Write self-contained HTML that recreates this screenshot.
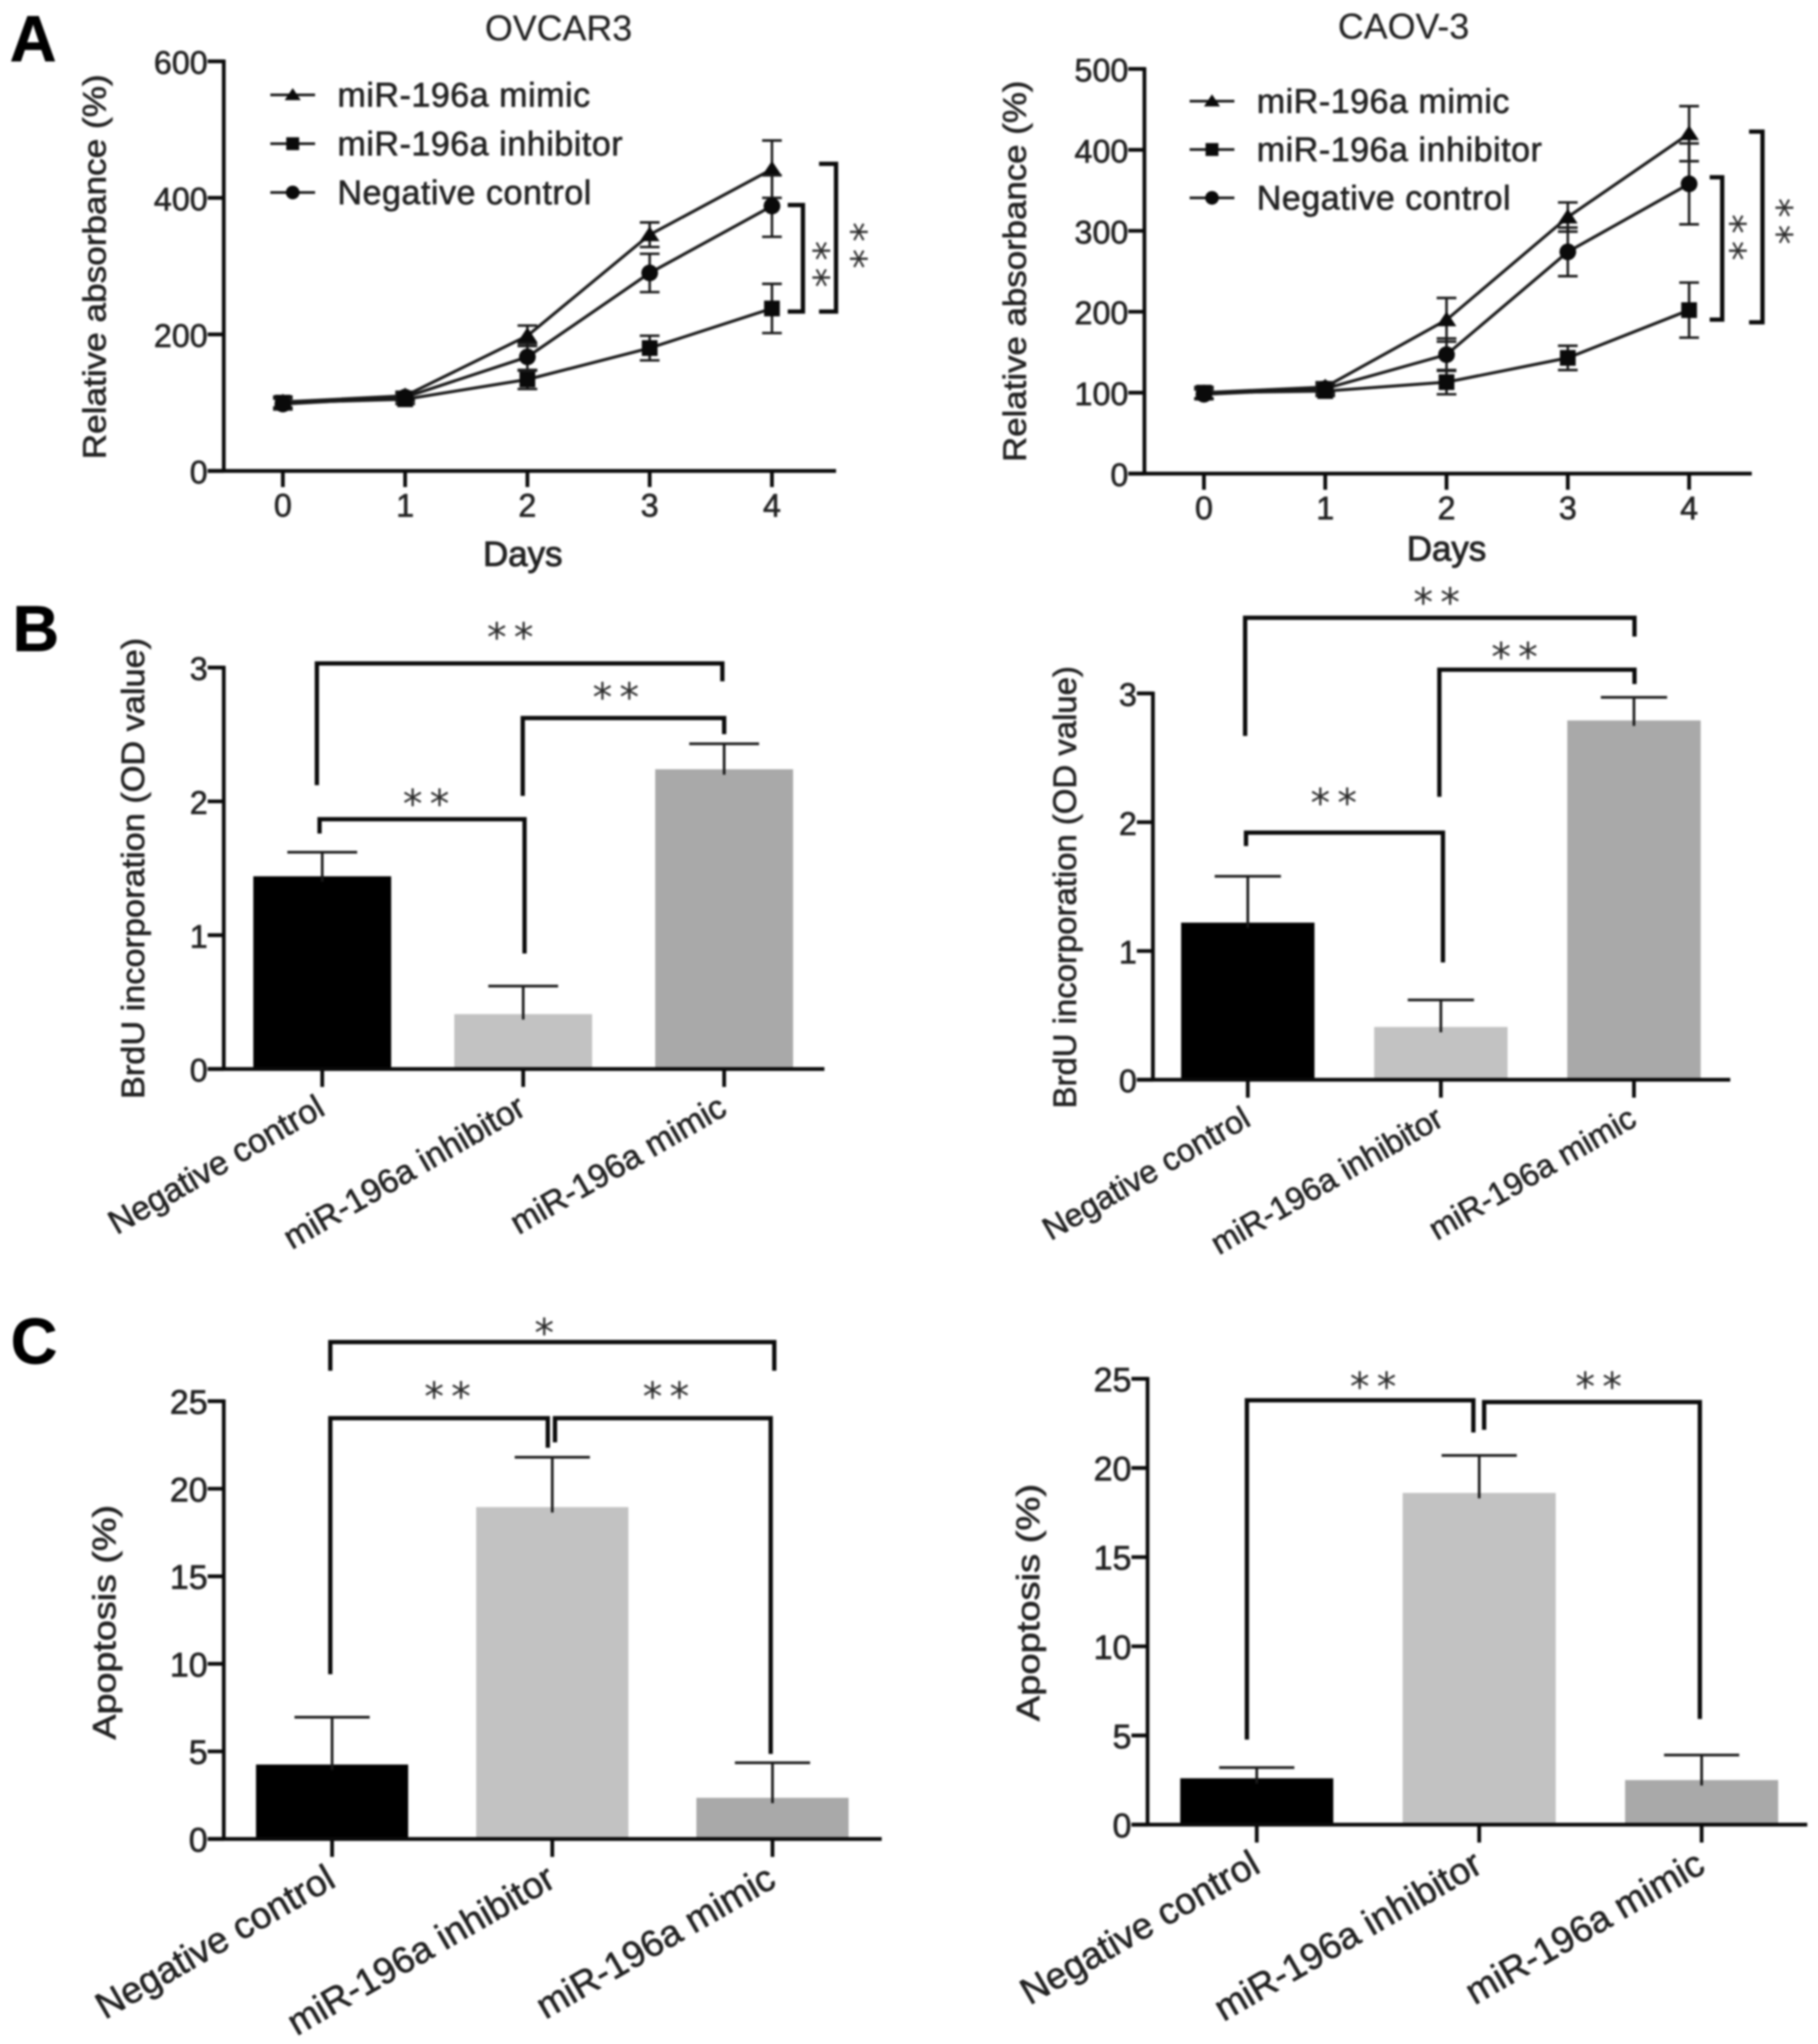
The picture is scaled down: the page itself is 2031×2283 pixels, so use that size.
<!DOCTYPE html>
<html lang="en">
<head>
<meta charset="utf-8">
<title>miR-196a proliferation and apoptosis panels</title>
<style>
html,body{margin:0;padding:0;background:#fff;}
#figure{display:block;width:2031px;height:2283px;filter:blur(.95px);}
text{font-family:"Liberation Sans",Arial,sans-serif;fill:#222;stroke:#222;stroke-width:.7px;}
.letter{font-size:72px;font-weight:bold;fill:#000;stroke:#000;}
.title{font-size:40px;text-anchor:middle;stroke-width:.2px;}
.tick{font-size:36px;}
.axis-title{font-size:36px;text-anchor:middle;}
.days-title{font-size:39px;text-anchor:middle;stroke-width:1px;}
.legend-text{font-size:38px;letter-spacing:.6px;}
.cat{text-anchor:end;}
.star{font-family:"DejaVu Sans",sans-serif;font-size:44px;text-anchor:middle;letter-spacing:8px;stroke-width:0;fill:#2c2c2c;}
.br{fill:none;stroke:#0a0a0a;stroke-width:4.8;stroke-linejoin:miter;}
</style>
</head>
<body>
<svg id="figure" xmlns="http://www.w3.org/2000/svg" width="2031" height="2283" viewBox="0 0 2031 2283">
  <rect x="0" y="0" width="2031" height="2283" fill="#fff"/>
  <text class="letter" x="11" y="68">A</text>
  <text class="letter" x="14" y="727">B</text>
  <text class="letter" x="12" y="1523">C</text>
  <text class="title" x="624" y="45">OVCAR3</text>
  <text class="title" x="1568" y="43">CAOV-3</text>

  <!-- significance brackets, panel A -->
  <g>
    <path class="br" d="M880 229H897V348H880"/>
    <path class="br" d="M915 183H934V348H915"/>
    <g transform="translate(917,299) rotate(90)"><text class="star" x="0" y="22">**</text></g>
    <g transform="translate(959,278) rotate(90)"><text class="star" x="0" y="22">**</text></g>
  </g>
  <g>
    <path class="br" d="M1910 198H1924V357H1910"/>
    <path class="br" d="M1954 147H1969V360H1954"/>
    <g transform="translate(1941,269) rotate(90)"><text class="star" x="0" y="22">**</text></g>
    <g transform="translate(1993,251) rotate(90)"><text class="star" x="0" y="22">**</text></g>
  </g>

  <!-- significance brackets, panel B -->
  <g>
    <path class="br" d="M354 877V741H807V761"/>
    <path class="br" d="M584 889V802H809V820"/>
    <path class="br" d="M357 931V915H586V1065"/>
    <text class="star" x="574" y="727">**</text>
    <text class="star" x="692" y="794">**</text>
    <text class="star" x="480" y="913">**</text>
  </g>
  <g>
    <path class="br" d="M1391 822V690H1826V711"/>
    <path class="br" d="M1608 890V748H1826V764"/>
    <path class="br" d="M1392 945V930H1612V1075"/>
    <text class="star" x="1609" y="688">**</text>
    <text class="star" x="1696" y="749">**</text>
    <text class="star" x="1494" y="912">**</text>
  </g>

  <!-- significance brackets, panel C -->
  <g>
    <path class="br" d="M369 1531V1499H865V1531"/>
    <path class="br" d="M369 1870V1584H612V1617"/>
    <path class="br" d="M620 1611V1584H861V1959"/>
    <text class="star" x="612" y="1504">*</text>
    <text class="star" x="504" y="1575">**</text>
    <text class="star" x="748" y="1575">**</text>
  </g>
  <g>
    <path class="br" d="M1393 1943V1564H1646V1600"/>
    <path class="br" d="M1658 1597V1566H1899V1920"/>
    <text class="star" x="1538" y="1564">**</text>
    <text class="star" x="1790" y="1564">**</text>
  </g>
</svg>

<script>
/* ---------- chart data ---------- */
const days = [0, 1, 2, 3, 4];
const seriesNames = ['miR-196a mimic', 'miR-196a inhibitor', 'Negative control'];
const categories = ['Negative control', 'miR-196a inhibitor', 'miR-196a mimic'];

const ovcarTicks = [0, 200, 400, 600];
const ovcarMimic = [101, 110, 198, 346, 442];
const ovcarMimicErr = [8, 6, 15, 18, 42];
const ovcarInhibitor = [100, 105, 134, 180, 238];
const ovcarInhibitorErr = [8, 7, 14, 18, 36];
const ovcarControl = [98, 108, 167, 290, 388];
const ovcarControlErr = [8, 6, 20, 28, 45];

const caovTicks = [0, 100, 200, 300, 400, 500];
const caovMimic = [100, 107, 190, 317, 420];
const caovMimicErr = [7, 6, 27, 18, 34];
const caovInhibitor = [100, 102, 113, 143, 202];
const caovInhibitorErr = [7, 6, 15, 15, 34];
const caovControl = [98, 105, 147, 274, 358];
const caovControlErr = [6, 6, 20, 30, 50];

const brduTicks = [0, 1, 2, 3];
const brduOvcarValues = [1.44, 0.41, 2.24];
const brduOvcarErr = [0.18, 0.21, 0.19];
const brduCaovValues = [1.22, 0.41, 2.79];
const brduCaovErr = [0.36, 0.21, 0.18];

const apoptosisTicks = [0, 5, 10, 15, 20, 25];
const apoptosisOvcarValues = [4.25, 18.95, 2.35];
const apoptosisOvcarErr = [2.7, 2.85, 2.0];
const apoptosisCaovValues = [2.6, 18.6, 2.5];
const apoptosisCaovErr = [0.6, 2.1, 1.4];

const barColors = ['#000000', '#c2c2c2', '#a9a9a9'];

/* ---------- helpers ---------- */
const NS = 'http://www.w3.org/2000/svg';
const svg = document.getElementById('figure');
function node(parent, tag, attrs, txt) {
  const e = document.createElementNS(NS, tag);
  for (const k in attrs) e.setAttribute(k, attrs[k]);
  if (txt !== undefined) e.textContent = txt;
  parent.appendChild(e);
  return e;
}
function yScale(c) { return v => c.y0 - v * (c.y0 - c.yTop) / c.yMax; }
function xDays(c) { return d => c.x0 + d * c.dx; }
function xCat(c) { return i => c.cx0 + i * c.step; }

function drawYAxis(g, c, ticks, y) {
  const axis = node(g, 'line', {x1: c.ax, x2: c.ax, y1: y(c.yMax) - 2, y2: c.y0 + 2, stroke: '#0a0a0a', 'stroke-width': 4.2});
  
  
  ticks.forEach(t => {
    const tk = node(g, 'line', {x1: c.ax - 18, x2: c.ax, y1: y(t), y2: y(t), stroke: '#0a0a0a', 'stroke-width': 4.2});
    
    
    const lb = node(g, 'text', {class: 'tick', x: c.ax - 18, y: y(t) + 14, 'text-anchor': 'end', style: 'font-size:' + (c.tickSize || 36) + 'px'}, t);
    
    
  });
  const title = node(g, 'text', {class: 'axis-title', transform: 'translate(' + c.yTitleX + ',' + c.yTitleY + ') rotate(-90)', x: 0, y: 0, textLength: c.yTitleLen, lengthAdjust: 'spacingAndGlyphs'}, c.yTitle);
  
  
}

function marker(g, kind, x, y, s) {
  let m;
  if (kind === 0) {
    m = node(g, 'path', {d: 'M' + x + ' ' + (y - s * .85) + 'L' + (x + s) + ' ' + (y + s * .65) + 'L' + (x - s) + ' ' + (y + s * .65) + 'Z', fill: '#0a0a0a'});
  } else if (kind === 1) {
    m = node(g, 'rect', {x: x - s * .8, y: y - s * .8, width: s * 1.6, height: s * 1.6, fill: '#0a0a0a'});
  } else {
    m = node(g, 'circle', {cx: x, cy: y, r: s * .85, fill: '#0a0a0a'});
  }
  return m;
}

function drawLineChart(name, c, ticks, values, errs) {
  const g = node(svg, 'g', {});
  
  
  const x = xDays(c), y = yScale(c);
  drawYAxis(g, c, ticks, y);
  const xa = node(g, 'line', {x1: c.ax - 18, x2: c.xEnd, y1: c.y0, y2: c.y0, stroke: '#0a0a0a', 'stroke-width': 4.2});
  
  
  days.forEach(d => {
    const tk = node(g, 'line', {x1: x(d), x2: x(d), y1: c.y0, y2: c.y0 + 18, stroke: '#0a0a0a', 'stroke-width': 4.2});
    
    
    const lb = node(g, 'text', {class: 'tick', x: x(d), y: c.y0 + 51, 'text-anchor': 'middle'}, d);
    
    
  });
  const xt = node(g, 'text', {class: 'days-title', x: c.xTitleX, y: c.xTitleY}, 'Days');
  
  

  values.forEach((vals, s) => {
    const sg = node(g, 'g', {});
    
    
    const pts = vals.map((v, i) => x(days[i]) + ',' + y(v)).join(' ');
    const ln = node(sg, 'polyline', {points: pts, fill: 'none', stroke: '#1a1a1a', 'stroke-width': 3.4});
    
    
    vals.forEach((v, i) => {
      const px = x(days[i]), hi = y(v + errs[s][i]), lo = y(v - errs[s][i]);
      const eb = node(sg, 'path', {d: 'M' + px + ' ' + hi + 'V' + lo + 'M' + (px - 11) + ' ' + hi + 'H' + (px + 11) + 'M' + (px - 11) + ' ' + lo + 'H' + (px + 11), fill: 'none', stroke: '#1a1a1a', 'stroke-width': 2.8});
      
      
      const m = marker(sg, s, px, y(v), 11);
      
      
    });
  });

  seriesNames.forEach((nm, s) => {
    const ly = c.legY + s * c.legStep;
    const ln = node(g, 'line', {x1: c.legX, x2: c.legX + 50, y1: ly, y2: ly, stroke: '#1a1a1a', 'stroke-width': 3});
    
    
    const m = marker(g, s, c.legX + 25, ly, 9);
    
    
    const t = node(g, 'text', {class: 'legend-text', x: c.legX + 75, y: ly + 13}, nm);
    
    
  });
}

function drawBarChart(name, c, ticks, values, errs) {
  const g = node(svg, 'g', {});
  
  
  const x = xCat(c), y = yScale(c);
  values.forEach((v, i) => {
    const b = node(g, 'rect', {x: x(i) - c.bw / 2, y: y(v), width: c.bw, height: c.y0 - y(v), fill: barColors[i]});
    
    
    const top = y(v + errs[i]);
    const eb = node(g, 'path', {d: 'M' + x(i) + ' ' + (y(v) + 6) + 'V' + top + 'M' + (x(i) - c.cap) + ' ' + top + 'H' + (x(i) + c.cap), fill: 'none', stroke: '#1a1a1a', 'stroke-width': 3});
    
    
    const tk = node(g, 'line', {x1: x(i), x2: x(i), y1: c.y0, y2: c.y0 + 20, stroke: '#0a0a0a', 'stroke-width': 4.2});
    
    
    const lb = node(g, 'text', {class: 'cat', style: 'font-size:' + c.catSize + 'px', transform: 'translate(' + (x(i) + c.labDx) + ',' + (c.y0 + c.labDy) + ') rotate(-30)', x: 0, y: 0}, categories[i]);
    
    
  });
  drawYAxis(g, c, ticks, y);
  const xa = node(g, 'line', {x1: c.ax - 18, x2: c.xEnd, y1: c.y0, y2: c.y0, stroke: '#0a0a0a', 'stroke-width': 4.2});
  
  
}

/* ---------- layouts ---------- */
drawLineChart('absorbance-chart-ovcar3', {
  ax: 250, y0: 526, yTop: 68.5, yMax: 600, x0: 316, dx: 136.6, xEnd: 934,
  yTitle: 'Relative absorbance (%)', yTitleX: 118, yTitleY: 298, yTitleLen: 430,
  xTitleX: 584, xTitleY: 632, legX: 302, legY: 106, legStep: 54.5
}, ovcarTicks, [ovcarMimic, ovcarInhibitor, ovcarControl], [ovcarMimicErr, ovcarInhibitorErr, ovcarControlErr]);

drawLineChart('absorbance-chart-caov3', {
  ax: 1278.5, y0: 529, yTop: 77, yMax: 500, x0: 1345, dx: 135.5, xEnd: 1957,
  yTitle: 'Relative absorbance (%)', yTitleX: 1146, yTitleY: 303, yTitleLen: 426,
  xTitleX: 1616, xTitleY: 626, legX: 1329, legY: 113, legStep: 54
}, caovTicks, [caovMimic, caovInhibitor, caovControl], [caovMimicErr, caovInhibitorErr, caovControlErr]);

drawBarChart('brdu-chart-ovcar3', {
  ax: 250, y0: 1194, yTop: 745.6, yMax: 3, cx0: 360, step: 224.5, bw: 154, cap: 39, xEnd: 921,
  yTitle: 'BrdU incorporation (OD value)', yTitleX: 161, yTitleY: 970, yTitleLen: 515, labDx: 5, labDy: 50, catSize: 37.5
}, brduTicks, brduOvcarValues, brduOvcarErr);

drawBarChart('brdu-chart-caov3', {
  ax: 1288, y0: 1206, yTop: 774.5, yMax: 3, cx0: 1394, step: 215.7, bw: 149, cap: 37, xEnd: 1933,
  yTitle: 'BrdU incorporation (OD value)', yTitleX: 1202, yTitleY: 991, yTitleLen: 494, labDx: 5, labDy: 50, catSize: 36
}, brduTicks, brduCaovValues, brduCaovErr);

drawBarChart('apoptosis-chart-ovcar3', {
  ax: 250, y0: 2054, yTop: 1565, yMax: 25, cx0: 371, step: 246, bw: 170, cap: 42, xEnd: 985,
  yTitle: 'Apoptosis (%)', yTitleX: 129, yTitleY: 1812, yTitleLen: 262, labDx: 6, labDy: 52, catSize: 41.5, tickSize: 38
}, apoptosisTicks, apoptosisOvcarValues, apoptosisOvcarErr);

drawBarChart('apoptosis-chart-caov3', {
  ax: 1282, y0: 2038, yTop: 1540, yMax: 25, cx0: 1404, step: 248.5, bw: 171, cap: 42, xEnd: 2019,
  yTitle: 'Apoptosis (%)', yTitleX: 1161, yTitleY: 1790, yTitleLen: 265, labDx: 6, labDy: 52, catSize: 41.5, tickSize: 38
}, apoptosisTicks, apoptosisCaovValues, apoptosisCaovErr);
</script>
</body>
</html>
